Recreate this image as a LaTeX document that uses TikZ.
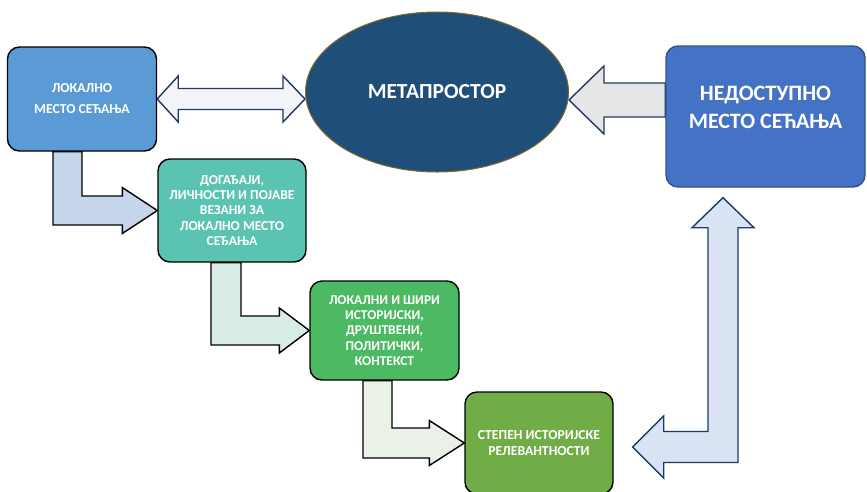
\documentclass[tikz,border=0pt]{standalone}
\usepackage{fontspec}
\setmainfont{Carlito}
\usetikzlibrary{calc,shapes.geometric,backgrounds}
\definecolor{locblue}{HTML}{5B9BD5}
\definecolor{eventteal}{HTML}{5BC3B1}
\definecolor{metablue}{HTML}{1F4E79}
\definecolor{metarim}{HTML}{7F6A2A}
\definecolor{unavblue}{HTML}{4472C4}
\definecolor{unavrim}{HTML}{2F528F}
\definecolor{ctxgreen}{HTML}{4CB963}
\definecolor{relgreen}{HTML}{70AD47}
\definecolor{navyline}{HTML}{1F3864}
\definecolor{arrowa}{HTML}{F2F4F7}
\definecolor{arrowb}{HTML}{E7E6E6}
\definecolor{arrowc}{HTML}{C5D5EA}
\definecolor{arrowd}{HTML}{D7ECE5}
\definecolor{arrowe}{HTML}{EAF2E7}
\definecolor{arrowf}{HTML}{DAE3F3}
\tikzset{blockarrow/.style={line width=1.4pt,line join=miter}}

\begin{document}
\begin{tikzpicture}[x=1pt,y=-1pt]
   \useasboundingbox (0,0) rectangle (867,491);
   \begin{scope}[every node/.style={rounded corners=12pt,draw=black,line width=1.4pt,text=white,align=center,inner sep=2pt}]
    \node[fill=locblue,minimum width=149pt,minimum height=104pt,font=\fontsize{13.7}{21}\selectfont\bfseries] (loc) at (82,99) {ЛОКАЛНО\\МЕСТО СЕЋАЊА};
    \node[fill=eventteal,minimum width=148pt,minimum height=103pt,font=\fontsize{13.6}{15.3}\selectfont\bfseries] (events) at (232,210.5) {ДОГАЂАЈИ,\\ЛИЧНОСТИ И ПОЈАВЕ\\ВЕЗАНИ ЗА\\ЛОКАЛНО МЕСТО\\СЕЂАЊА};
    \node[ellipse,sharp corners,fill=metablue,draw=metarim,line width=1pt,minimum width=263pt,minimum height=160pt,inner sep=0pt,font=\fontsize{21.5}{24}\selectfont\bfseries] (meta) at (437,92) {МЕТАПРОСТОР};
    \node[fill=unavblue,draw=unavrim,minimum width=199pt,minimum height=141pt,text depth=19pt,font=\fontsize{22}{28}\selectfont\bfseries] (unav) at (765.5,116.5) {НЕДОСТУПНО\\МЕСТО СЕЋАЊА};
    \node[fill=ctxgreen,minimum width=149pt,minimum height=99pt,font=\fontsize{13.5}{15.3}\selectfont\bfseries] (ctx) at (384.5,330.5) {ЛОКАЛНИ И ШИРИ\\ИСТОРИЈСКИ,\\ДРУШТВЕНИ,\\ПОЛИТИЧКИ,\\КОНТЕКСТ};
    \node[fill=relgreen,minimum width=148pt,minimum height=102pt,font=\fontsize{13.7}{15.3}\selectfont\bfseries] (rel) at (539,443) {СТЕПЕН ИСТОРИЈСКЕ\\РЕЛЕВАНТНОСТИ};
   \end{scope}
   \begin{scope}[on background layer]
    \draw[blockarrow,draw=navyline,fill=arrowa] (loc.east) -- ++(21,-23) -- ++(0,12.5) -- ($(loc.east -| meta.west)+(-22,-10.5)$) -- ++(0,-12.5) -- (loc.east -| meta.west) -- ++(-22,23) -- ++(0,-12.5) -- ($(loc.east)+(21,10.5)$) -- ++(0,12.5) -- cycle;
    \coordinate (btip) at ($(meta.east)+(0,8)$);
    \draw[blockarrow,draw=navyline,fill=arrowb] (btip) -- ++(35,-34) -- ++(0,17) -- ($(btip -| unav.west)+(0,-17)$) -- ($(btip -| unav.west)+(0,17)$) -- ($(btip)+(35,17)$) -- ++(0,17) -- cycle;
    \draw[blockarrow,draw=black,fill=arrowc] (loc.south) -- ($(loc.south |- events.west)+(0,-14.5)$) -- ($(events.west)+(-35,-14.5)$) -- ++(0,-8.5) -- (events.west) -- ++(-35,23) -- ++(0,-8.5) -- ($(loc.south |- events.west)+(-29,14.5)$) -- ($(loc.south)+(-29,0)$) -- cycle;
    \draw[blockarrow,draw=black,fill=arrowd] ($(events.south)+(9,0)$) -- ($(events.south |- ctx.west)+(9,-14.5)$) -- ($(ctx.west)+(-30,-14.5)$) -- ++(0,-8) -- (ctx.west) -- ++(-30,22.5) -- ++(0,-8) -- ($(events.south |- ctx.west)+(-21,14.5)$) -- ($(events.south)+(-21,0)$) -- cycle;
    \draw[blockarrow,draw=black,fill=arrowe] ($(ctx.south)+(7.5,0)$) -- ($(ctx.south |- rel.west)+(7.5,-15)$) -- ($(rel.west)+(-35,-15)$) -- ++(0,-7.5) -- (rel.west) -- ++(-35,22.5) -- ++(0,-7.5) -- ($(ctx.south |- rel.west)+(-21.5,15)$) -- ($(ctx.south)+(-21.5,0)$) -- cycle;
    \coordinate (fleft) at ($(rel.east)+(19,4)$);
    \coordinate (ftop) at ($(unav.south)+(-42.5,10)$);
    \draw[blockarrow,draw=navyline,fill=arrowf] (fleft) -- ++(31,-31) -- ++(0,15.5) -- ($(ftop |- fleft)+(-15,-15.5)$) -- ($(ftop)+(-15,30)$) -- ++(-16,0) -- (ftop) -- ++(31,30) -- ++(-16,0) -- ($(ftop |- fleft)+(15,15.5)$) -- ($(fleft)+(31,15.5)$) -- ++(0,15.5) -- cycle;
   \end{scope}
\end{tikzpicture}
\end{document}
